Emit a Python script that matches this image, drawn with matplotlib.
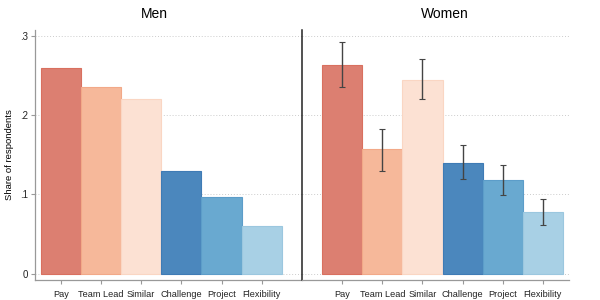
import numpy as np
import matplotlib.pyplot as plt

plt.rcParams['font.family'] = ['Liberation Sans', 'DejaVu Sans']

# Data
categories = ['Pay', 'Team Lead', 'Similar', 'Challenge', 'Project', 'Flexibility']
men = [0.259, 0.235, 0.221, 0.129, 0.097, 0.060]
women = [0.263, 0.157, 0.245, 0.140, 0.118, 0.078]
women_lo = [0.235, 0.130, 0.220, 0.119, 0.099, 0.061]
women_hi = [0.292, 0.182, 0.271, 0.162, 0.137, 0.094]

colors = ['#dc7f71', '#f6b89a', '#fce1d3', '#4b87bd', '#69a9d0', '#a8d0e5']
edges = ['#d9705f', '#f2a988', '#fad6c3', '#3f7bb5', '#5c9dc9', '#9bc7df']

fig = plt.figure(figsize=(6, 3), dpi=100)
ax1 = fig.add_axes([35/600, 20/300, 267/600, 250/300])
ax2 = fig.add_axes([302/600, 20/300, 267/600, 250/300])

x = np.arange(len(categories))
for ax, vals in [(ax1, men), (ax2, women)]:
    ax.bar(x, vals, width=1.0, color=colors, edgecolor=edges, linewidth=0.8, zorder=2)
    ax.set_ylim(-0.0082, 0.3076)
    ax.set_yticks([0, 0.1, 0.2, 0.3])
    for yv in [0, 0.1, 0.2, 0.3]:
        ax.axhline(yv, color='#cccccc', linestyle=(0, (1, 2)), linewidth=0.7, zorder=1)
    ax.set_xticks(x)
    ax.set_xticklabels(categories, fontsize=6.6, color='#222222')
    ax.tick_params(axis='x', length=3, color='#999999', pad=4)
    ax.spines['top'].set_visible(False)
    ax.spines['right'].set_visible(False)
    ax.spines['bottom'].set_color('#999999')
    ax.spines['bottom'].set_linewidth(0.9)

ax1.set_xlim(-0.64, 6.0)
ax2.set_xlim(-1.0, 5.65)

ax1.set_yticklabels(['0', '.1', '.2', '.3'], fontsize=7, color='#222222')
ax1.tick_params(axis='y', length=3, color='#999999', pad=2)
ax1.spines['left'].set_color('#999999')
ax1.spines['left'].set_linewidth(0.9)
ax1.set_ylabel('Share of respondents', fontsize=6.8)
ax1.yaxis.set_label_coords(-0.078, 0.5)

ax2.tick_params(axis='y', left=False, labelleft=False)
ax2.spines['left'].set_color('#222222')
ax2.spines['left'].set_linewidth(1.1)

lo = np.array(women) - np.array(women_lo)
hi = np.array(women_hi) - np.array(women)
ax2.errorbar(x, women, yerr=[lo, hi], fmt='none', ecolor='#444444',
             elinewidth=1.0, capsize=2, capthick=0.8, zorder=3)

fig.text(154/600, 1 - 14/300, 'Men', ha='center', va='center', fontsize=10)
fig.text(445/600, 1 - 14/300, 'Women', ha='center', va='center', fontsize=10)

fig.savefig('out.png', dpi=100)
